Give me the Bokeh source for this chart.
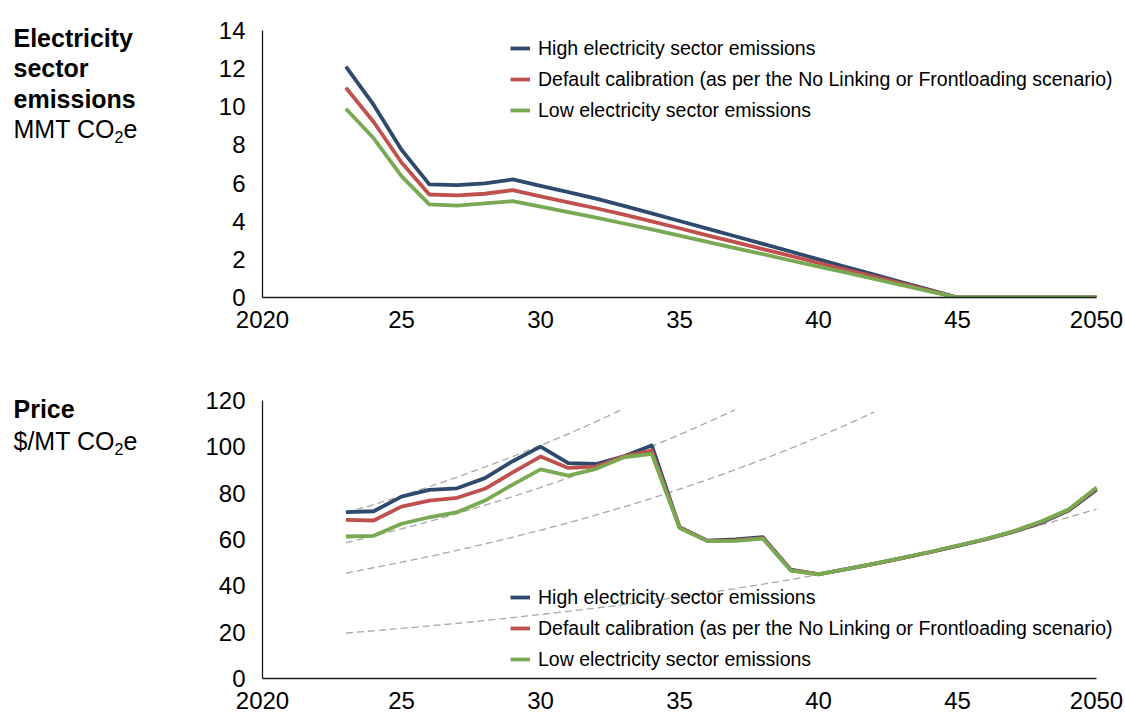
from bokeh.plotting import figure
from bokeh.models import Range1d, FixedTicker, Label, Legend, LegendItem
from bokeh.layouts import column, row
from bokeh.embed import file_html
from bokeh.resources import INLINE

FONT = "Liberation Sans"

# ---------------- data ----------------
years = list(range(2023, 2051))
series_names = [
    "High electricity sector emissions",
    "Default calibration (as per the No Linking or Frontloading scenario)",
    "Low electricity sector emissions",
]
series_colors = ["#2f4a6d", "#c0504d", "#79a952"]

x_ticks = [2020, 2025, 2030, 2035, 2040, 2045, 2050]
x_tick_labels = ["2020", "25", "30", "35", "40", "45", "2050"]
em_ticks = [0, 2, 4, 6, 8, 10, 12, 14]
price_ticks = [0, 20, 40, 60, 80, 100, 120]

# Electricity sector emissions, MMT CO2e (2023..2050)
em_high = [12.1, 10.1, 7.75, 5.93, 5.89, 5.98, 6.19, 5.85, 5.52, 5.18, 4.8, 4.41, 4.01, 3.61,
           3.21, 2.81, 2.41, 2.0, 1.6, 1.2, 0.8, 0.4, 0, 0, 0, 0, 0, 0]
em_default = [11.0, 9.2, 7.08, 5.4, 5.35, 5.44, 5.63, 5.3, 4.99, 4.68, 4.35, 3.99, 3.63, 3.26,
              2.9, 2.54, 2.18, 1.81, 1.45, 1.09, 0.73, 0.36, 0, 0, 0, 0, 0, 0]
em_low = [9.9, 8.35, 6.36, 4.88, 4.82, 4.93, 5.05, 4.77, 4.48, 4.19, 3.88, 3.57, 3.24, 2.92,
          2.59, 2.27, 1.94, 1.62, 1.30, 0.97, 0.65, 0.32, 0, 0, 0, 0, 0, 0]

# Price, $/MT CO2e (2023..2050)
pr_high = [71.8, 72.2, 78.5, 81.4, 82.1, 86.5, 93.8, 100.1, 93.0, 92.6, 95.9, 100.6, 65.3, 59.5,
           60.0, 61.0, 47.0, 45.0, 47.2, 49.5, 52.0, 54.5, 57.2, 60.0, 63.3, 67.2, 72.5, 81.5]
pr_default = [68.5, 68.2, 74.2, 76.8, 78.0, 81.9, 89.0, 95.8, 90.9, 91.5, 95.9, 98.4, 65.3, 59.4,
              59.6, 60.6, 46.8, 45.0, 47.2, 49.5, 52.0, 54.5, 57.3, 60.1, 63.4, 67.5, 72.8, 82.0]
pr_low = [61.3, 61.6, 66.8, 69.6, 71.8, 76.8, 83.7, 90.3, 87.6, 90.5, 95.5, 97.0, 65.0, 59.3,
          59.4, 60.4, 46.6, 44.9, 47.2, 49.6, 52.1, 54.6, 57.4, 60.2, 63.5, 67.8, 73.0, 82.5]

# Dashed reference price paths (each starting 2023)
ref1 = [71.5, 75.1, 78.8, 82.8, 86.9, 91.3, 95.8, 100.6, 105.6, 110.9, 116.5]
ref2 = [58.6, 61.5, 64.6, 67.8, 71.2, 74.8, 78.5, 82.4, 86.6, 90.9, 95.4, 100.2, 105.2, 110.5, 116.0]
ref3 = [45.5, 47.8, 50.2, 52.7, 55.3, 58.1, 61.0, 64.0, 67.2, 70.6, 74.1, 77.8, 81.7, 85.8, 90.1,
        94.6, 99.3, 104.3, 109.5, 115.0]
ref4 = [19.6, 20.6, 21.6, 22.7, 23.8, 25.0, 26.3, 27.6, 29.0, 30.4, 31.9, 33.5, 35.2, 36.9, 38.8,
        40.7, 42.7, 44.9, 47.1, 49.5, 51.9, 54.5, 57.3, 60.1, 63.1, 66.3, 69.6, 73.1]

TITLE_W = 150
CHART_W = 975
X_END = 2050.79   # small room right of 2050 so legend text is not clipped


def make_fig(height, b_top, b_bottom, y_end, y_ticks, x_standoff, x_line_height=1.2):
    p = figure(width=CHART_W, height=height, output_backend="svg", toolbar_location=None,
               x_range=Range1d(2020, X_END), y_range=Range1d(0, y_end),
               min_border_left=112, min_border_right=7,
               min_border_top=b_top, min_border_bottom=b_bottom)
    p.outline_line_color = None
    p.xgrid.visible = False
    p.ygrid.visible = False
    p.background_fill_color = "white"
    p.border_fill_color = "white"
    for ax in (p.xaxis, p.yaxis):
        ax.axis_line_color = "#1a1a1a"
        ax.axis_line_width = 1.3
        ax.major_tick_line_color = None
        ax.minor_tick_line_color = None
        ax.major_tick_out = 0
        ax.major_tick_in = 0
        ax.major_label_text_font = FONT
        ax.major_label_text_font_size = "24px"
        ax.major_label_text_color = "black"
    p.xaxis.ticker = FixedTicker(ticks=x_ticks)
    p.xaxis.bounds = (x_ticks[0], x_ticks[-1])
    p.xaxis.major_label_overrides = {t: s for t, s in zip(x_ticks, x_tick_labels)}
    p.xaxis.major_label_standoff = x_standoff
    p.xaxis.major_label_text_line_height = x_line_height
    p.yaxis.ticker = FixedTicker(ticks=y_ticks)
    p.yaxis.major_label_standoff = 17
    return p


def add_legend(p, renderers, vy):
    items = [LegendItem(label=n, renderers=[r]) for n, r in zip(series_names, renderers)]
    lg = Legend(items=items, location=(248, vy), orientation="vertical",
                background_fill_alpha=0, border_line_color=None, padding=0, margin=0,
                spacing=8, glyph_width=20, glyph_height=20, label_height=20,
                label_standoff=8, label_text_font=FONT, label_text_font_size="19.5px",
                label_text_color="black")
    p.add_layout(lg)


# ---------------- top: emissions ----------------
p1 = make_fig(350, 30, 53, 14, em_ticks, 13)
r1 = []
for vals, col in zip([em_high, em_default, em_low], series_colors):
    r1.append(p1.line(years, vals, line_color=col, line_width=3.8, line_join="round"))
add_legend(p1, r1, 175.5)

# ---------------- bottom: price ----------------
p2 = make_fig(363, 50, 35, 120, price_ticks, 13, x_line_height=0.8)
for ref in (ref1, ref2, ref3, ref4):
    p2.line(years[:len(ref)], ref, line_color="#a8a8a8", line_width=1.3, line_dash="7 4")
r2 = []
for vals, col in zip([pr_high, pr_default, pr_low], series_colors):
    r2.append(p2.line(years, vals, line_color=col, line_width=3.8, line_join="round"))
add_legend(p2, r2, 7.5)

# ---------------- left titles (page pixel space) ----------------
pt = figure(width=TITLE_W, height=713, output_backend="svg", toolbar_location=None,
            x_range=Range1d(0, TITLE_W), y_range=Range1d(713, 0),
            x_axis_type=None, y_axis_type=None, min_border=0)
pt.outline_line_color = None
pt.xgrid.visible = False
pt.ygrid.visible = False


def add_title(bold_lines, unit_prefix, y0, step):
    for i, t in enumerate(bold_lines):
        pt.add_layout(Label(x=13, y=y0 + i * step, text=t, text_font=FONT,
                            text_font_style="bold", text_font_size="25px",
                            text_baseline="alphabetic", text_color="black"))
    yu = y0 + len(bold_lines) * step
    pt.add_layout(Label(x=13, y=yu, text=unit_prefix, text_font=FONT, text_font_size="25px",
                        text_baseline="alphabetic", text_color="black"))
    pt.add_layout(Label(x=114, y=yu + 7.5, text="2", text_font=FONT, text_font_size="16px",
                        text_baseline="alphabetic", text_color="black"))
    pt.add_layout(Label(x=123, y=yu, text="e", text_font=FONT, text_font_size="25px",
                        text_baseline="alphabetic", text_color="black"))


add_title(["Electricity", "sector", "emissions"], "MMT CO", 37.3, 30.5)
add_title(["Price"], "$/MT CO", 408.3, 32.2)

layout = row(pt, column(p1, p2, spacing=0), spacing=0)
open("out.html", "w").write(file_html(layout, INLINE))
